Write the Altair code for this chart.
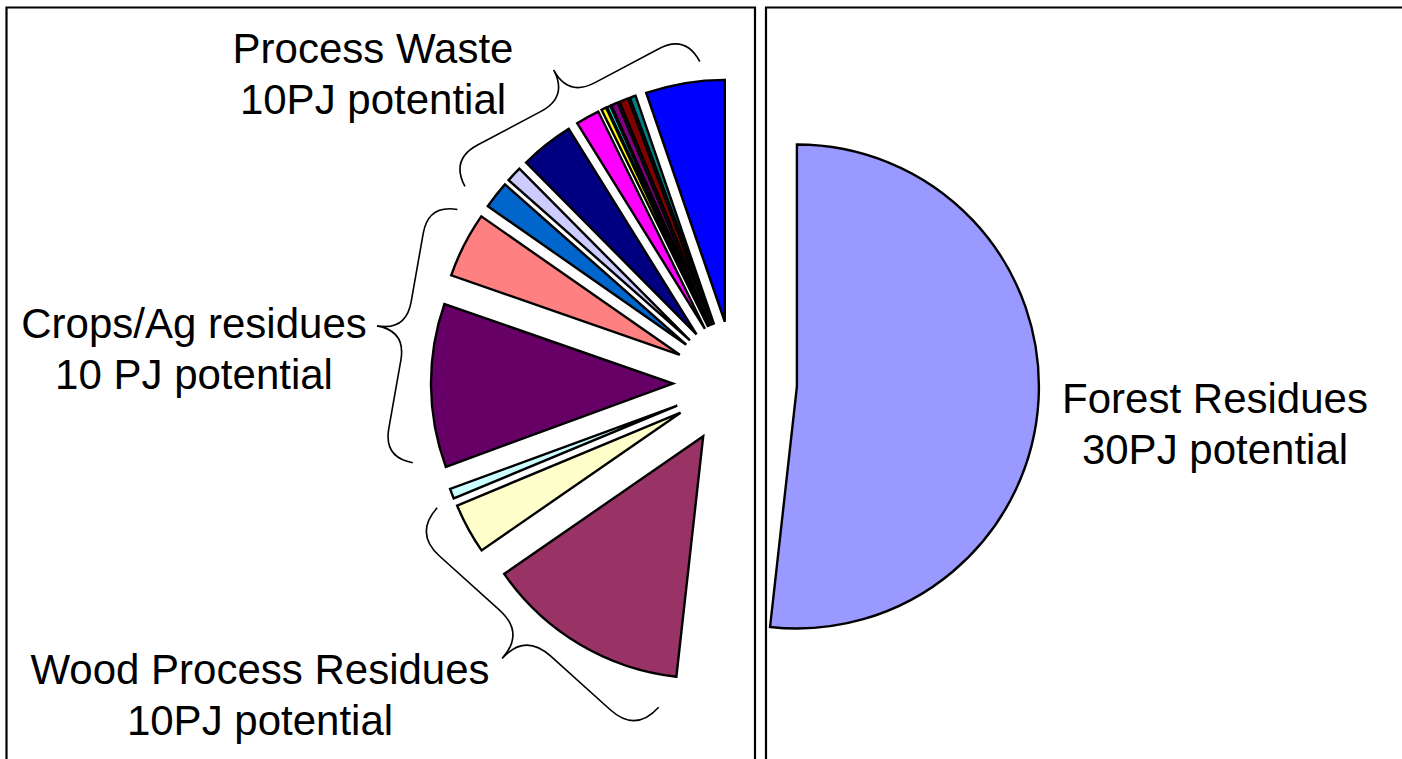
import math
import pandas as pd
import altair as alt

# ---------------- data (PJ) ----------------
categories = [
    "Forest Residues",
    "Wood process residue A", "Wood process residue B", "Wood process residue C",
    "Crops/Ag residue A", "Crops/Ag residue B",
    "Process waste A", "Process waste B", "Process waste C", "Process waste D",
    "Process waste E", "Process waste F", "Process waste G", "Process waste H",
    "Process waste I", "Process waste J",
]
values_pj = [30.0, 7.88, 1.95, 0.39, 6.33, 2.53, 1.06, 0.60, 2.08, 0.92,
             0.19, 0.13, 0.26, 0.35, 0.23, 3.05]
colors = ["#9999FF", "#993366", "#FFFFCC", "#CCFFFF", "#660066", "#FF8080",
          "#0066CC", "#CCCCFF", "#000080", "#FF00FF", "#FFFF00", "#00FFFF",
          "#800080", "#800000", "#008080", "#0000FF"]

label_texts = [
    ["Process Waste", "10PJ potential"],
    ["Crops/Ag residues", "10 PJ potential"],
    ["Wood Process Residues", "10PJ potential"],
    ["Forest Residues", "30PJ potential"],
]

# ---------------- layout / style ----------------
W, H = 1402, 759
CX, CY = 735, 383          # pie centre (px)
RADIUS = 242
EXPLODE = 62
TOTAL = sum(values_pj)
label_pos = [(373, 63), (194, 338), (260, 684), (1215, 413)]

# braces: centre of arms (x, y), rotation (deg), length (px)
brace_layout = pd.DataFrame({
    "bx": [568, 406, 525],
    "by": [97, 331, 633],
    "angle": [332, 280, 222],
    "size": [266 ** 2, 257 ** 2, 298 ** 2],
})
q = 0.23
BRACE_PATH = (f"M -1 {q} Q -1 0 {-1 + q} 0 L {-q} 0 Q 0 0 0 {-q} "
              f"Q 0 0 {q} 0 L {1 - q} 0 Q 1 0 1 {q}")

df = pd.DataFrame({
    "category": categories,
    "value": values_pj,
    "order": list(range(len(categories))),
})

pie = (
    alt.Chart(df)
    .transform_window(cum="sum(value)", sort=[alt.SortField("order")], frame=[None, 0])
    .transform_calculate(
        start="datum.cum - datum.value",
        mid=f"(datum.cum - datum.value / 2) / {TOTAL} * 2 * PI",
    )
    .transform_calculate(
        px=f"{CX} + {EXPLODE} * sin(datum.mid)",
        py=f"{CY} - {EXPLODE} * cos(datum.mid)",
    )
    .mark_arc(outerRadius=RADIUS, stroke="black", strokeWidth=2.4, strokeJoin="miter")
    .encode(
        theta=alt.Theta("start:Q", scale=alt.Scale(domain=[0, TOTAL], range=[0, 2 * math.pi]), stack=None),
        theta2="cum:Q",
        x=alt.X("px:Q", scale=None),
        y=alt.Y("py:Q", scale=None),
        color=alt.Color("category:N", scale=alt.Scale(domain=categories, range=colors), legend=None),
    )
)

one = pd.DataFrame({"a": [0]})
frames = [
    alt.Chart(one).mark_rect(fillOpacity=0, stroke="black", strokeWidth=2.2).encode(
        x=alt.value(6.5), x2=alt.value(755), y=alt.value(7.5), y2=alt.value(820)),
    alt.Chart(one).mark_rect(fillOpacity=0, stroke="black", strokeWidth=2.2).encode(
        x=alt.value(766), x2=alt.value(1460), y=alt.value(7.5), y2=alt.value(820)),
]

braces = alt.Chart(brace_layout).mark_point(
    shape=BRACE_PATH, filled=False, stroke="black", strokeWidth=1.6, opacity=1
).encode(
    x=alt.X("bx:Q", scale=None),
    y=alt.Y("by:Q", scale=None),
    angle=alt.Angle("angle:Q", scale=None),
    size=alt.Size("size:Q", scale=None),
)

labels = [
    alt.Chart(one).mark_text(
        font="Liberation Sans", fontSize=42, align="center", baseline="alphabetic",
        lineHeight=51, color="black"
    ).encode(x=alt.value(px), y=alt.value(py), text=alt.value(t))
    for t, (px, py) in zip(label_texts, label_pos)
]

chart = alt.layer(*frames, pie, braces, *labels).properties(
    width=W, height=H, autosize=alt.AutoSizeParams(type="none"), padding=0,
    background="white",
).configure_view(strokeWidth=0)

chart.save("out.html", embed_options={"renderer": "svg", "actions": False})
